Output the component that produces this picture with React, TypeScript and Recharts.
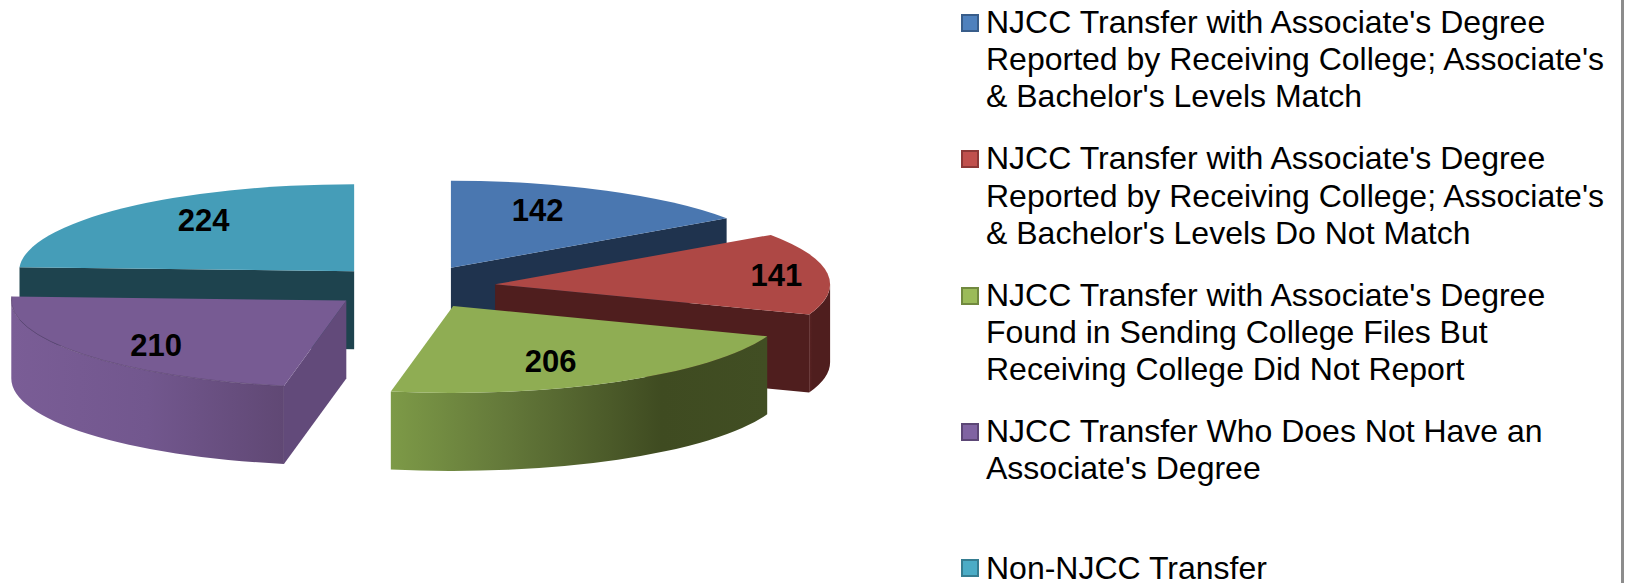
import { Legend, Pie, PieChart } from "recharts";

const categories = [
  "NJCC Transfer with Associate's Degree Reported by Receiving College; Associate's & Bachelor's Levels Match",
  "NJCC Transfer with Associate's Degree Reported by Receiving College; Associate's & Bachelor's Levels Do Not Match",
  "NJCC Transfer with Associate's Degree Found in Sending College Files But Receiving College Did Not Report",
  "NJCC Transfer Who Does Not Have an Associate's Degree",
  "Non-NJCC Transfer",
];
const values = [142, 141, 206, 210, 224];

const topColors = ["#4a77b0", "#ae4845", "#8fad53", "#775b93", "#459db8"];
const sideColors = ["#1f334e", "#4f1e1e", "#404c22", "#624a7a", "#1e434e"];
const markerColors = ["#4f81bd", "#c0504d", "#9bbb59", "#8064a2", "#4bacc6"];
const markerBorders = ["#385d8a", "#8c3836", "#71893f", "#5c4776", "#357d91"];

// wall shading, left to right
const wallStops: Record<number, [number, string][]> = {
  1: [[0, "#5a2424"], [0.15, "#4f1e1e"], [1, "#4f1e1e"]],
  2: [[0, "#7d9a47"], [0.3, "#64793a"], [0.72, "#3f4b21"], [1, "#414e23"]],
  3: [[0, "#7a5d96"], [0.5, "#72578e"], [1, "#604874"]],
};

// how far the label sits from where the slice's mid angle would put it
const labelNudge = [
  [-30, 1],
  [32, -1],
  [-26, -1],
  [7, 5],
  [23, -4],
];

const RX = 335; // outerRadius of the pie
const RY = 87;
const DEPTH = 78;
const EXPLODE = 0.25;
const RAD = Math.PI / 180;

const total = values.reduce((a, b) => a + b, 0);

// the back slice goes first so the purple one paints over it
const drawOrder = [4, 0, 1, 2, 3];
const pieData = drawOrder.map((i) => ({
  name: categories[i],
  value: values[i],
  index: i,
}));
const startAngle = 90 + (values[4] / total) * 360;

const legendData = categories.map((name, i) => ({
  name,
  color: markerColors[i],
  border: markerBorders[i],
}));

// recharts angles are counter clockwise from 3 o'clock, here clockwise from 12
const clock = (a: number) => 90 - a;
const rim = (ax: number, ay: number, deg: number) => [
  ax + RX * Math.sin(deg * RAD),
  ay - RY * Math.cos(deg * RAD),
];
const apexOf = (cx: number, cy: number, mid: number) => [
  cx + EXPLODE * RX * Math.sin(mid * RAD),
  cy - EXPLODE * RY * Math.cos(mid * RAD),
];

function arcPath(ax: number, ay: number, from: number, to: number) {
  const [x, y] = rim(ax, ay, to);
  const large = Math.abs(to - from) > 180 ? 1 : 0;
  const sweep = to > from ? 1 : 0;
  return `A${RX} ${RY} 0 ${large} ${sweep} ${x} ${y}`;
}

function Slice3D(props: any) {
  const { cx, cy, startAngle: sa, endAngle: ea, index: i } = props;
  const slot = props.payload?.index ?? drawOrder[props.index];
  const s = clock(sa);
  const e = clock(ea);
  const [ax, ay] = apexOf(cx, cy, (s + e) / 2);
  const [sx, sy] = rim(ax, ay, s);
  const [ex, ey] = rim(ax, ay, e);
  const side = sideColors[slot];
  const top = topColors[slot];

  const face = (x: number, y: number) =>
    `M${ax} ${ay}L${x} ${y}L${x} ${y + DEPTH}L${ax} ${ay + DEPTH}Z`;

  const wallFrom = Math.max(s, 90);
  const wallTo = Math.min(e, 270);
  let wall = null;
  if (wallTo > wallFrom) {
    const [x0, y0] = rim(ax, ay, wallFrom);
    const [x1, y1] = rim(ax, ay, wallTo);
    wall =
      `M${x0} ${y0}` +
      arcPath(ax, ay, wallFrom, wallTo) +
      `L${x1} ${y1 + DEPTH}` +
      arcPath(ax, ay + DEPTH, wallTo, wallFrom) +
      "Z";
  }
  const stops = wallStops[slot];
  const gradId = `wall-${slot}`;

  return (
    <g key={i}>
      {stops && (
        <defs>
          <linearGradient id={gradId} x1="0" y1="0" x2="1" y2="0">
            {stops.map(([o, c]) => (
              <stop key={o} offset={o} stopColor={c} />
            ))}
          </linearGradient>
        </defs>
      )}
      {Math.sin(s * RAD) < -0.001 && <path d={face(sx, sy)} fill={side} />}
      {Math.sin(e * RAD) > 0.001 && <path d={face(ex, ey)} fill={side} />}
      {wall && <path d={wall} fill={`url(#${gradId})`} />}
      <path d={`M${ax} ${ay}L${sx} ${sy}` + arcPath(ax, ay, s, e) + "Z"} fill={top} />
      {slot === 3 && (
        <path
          d={`M${sx} ${sy}` + arcPath(ax, ay, s, e)}
          fill="none"
          stroke="#5a4370"
          strokeWidth={0.7}
        />
      )}
    </g>
  );
}

function SliceLabel(props: any) {
  const { cx, cy, midAngle, value } = props;
  const slot = values.indexOf(value);
  const mid = clock(midAngle);
  const [ax, ay] = apexOf(cx, cy, mid);
  const [nx, ny] = labelNudge[slot];
  return (
    <text
      x={ax + 0.75 * RX * Math.sin(mid * RAD) + nx}
      y={ay - 0.75 * RY * Math.cos(mid * RAD) + ny}
      textAnchor="middle"
      dominantBaseline="central"
      fontFamily="'Liberation Sans', Arial, sans-serif"
      fontWeight="bold"
      fontSize={31}
      fill="#000"
    >
      {value}
    </text>
  );
}

function LegendList() {
  return (
    <div>
      {legendData.map((d, i) => {
        // the last entry sits on the bottom edge, so its line box is tighter
        const last = i === legendData.length - 1;
        return (
          <div key={d.name} style={{ position: "relative", height: last ? 37 : 136.3, paddingLeft: 25 }}>
            <span
              style={{
                position: "absolute",
                left: 0,
                top: 14,
                width: 14,
                height: 14,
                background: d.color,
                border: `2px solid ${d.border}`,
              }}
            />
            <div
              style={{
                paddingTop: last ? 7.6 : 4,
                lineHeight: last ? "30px" : "37.2px",
                fontSize: 32,
                color: "#000",
              }}
            >
              {d.name}
            </div>
          </div>
        );
      })}
    </div>
  );
}

export default function App() {
  return (
    <div
      style={{
        position: "absolute",
        left: 0,
        top: 0,
        width: 1627,
        height: 583,
        overflow: "hidden",
        background: "#fff",
        fontFamily: "'Liberation Sans', Arial, sans-serif",
      }}
    >
      <PieChart width={1627} height={583} margin={{ top: 0, right: 0, bottom: 0, left: 0 }}>
        <Pie
          data={pieData}
          dataKey="value"
          nameKey="name"
          cx={412}
          cy={287}
          outerRadius={RX}
          startAngle={startAngle}
          endAngle={startAngle - 360}
          stroke="none"
          shape={Slice3D}
          inactiveShape={Slice3D}
          label={SliceLabel}
          labelLine={false}
          isAnimationActive={false}
        />
        <Legend
          content={LegendList}
          layout="vertical"
          wrapperStyle={{ position: "absolute", left: 961, top: 0, width: 658, bottom: "auto" }}
        />
      </PieChart>
      <div
        style={{
          position: "absolute",
          left: 1621,
          top: 0,
          width: 3,
          height: 583,
          background: "#8c8c8c",
        }}
      />
    </div>
  );
}
